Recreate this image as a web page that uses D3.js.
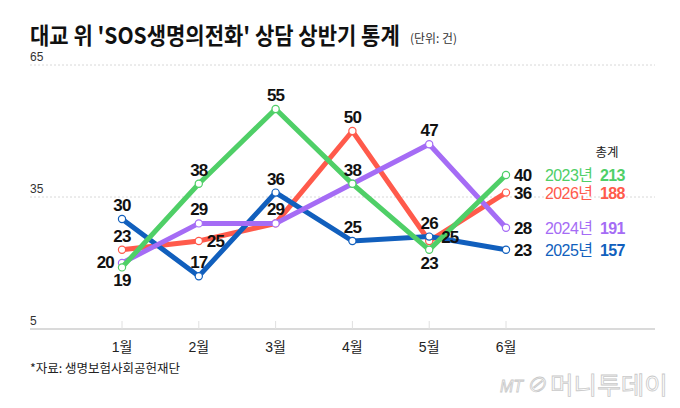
<!DOCTYPE html>
<html>
<head>
<meta charset="utf-8">
<script src="https://cdn.jsdelivr.net/npm/d3@7"></script>
<style>
  html, body { margin: 0; padding: 0; background: #fff; }
  svg { display: block; }
  text { font-family: "Liberation Sans", "Noto Sans CJK KR", sans-serif; }
  .kr { font-family: "Noto Sans CJK KR", sans-serif; }
</style>
</head>
<body>
<svg width="680" height="408"></svg>
<script>
const months = ["1월", "2월", "3월", "4월", "5월", "6월"];
const yTicks = [5, 35, 65];

// 연도별 월간 상담 건수
const years  = ["2023년", "2026년", "2024년", "2025년"];
const colors = ["#4fcf67", "#ff5a4b", "#a56cf5", "#115fbd"];
const values = [
  [19, 38, 55, 38, 23, 40],
  [23, 25, 29, 50, 25, 36],
  [20, 29, 29, 38, 47, 28],
  [30, 17, 36, 25, 26, 23]
];
// label placement per point: t = top, b = bottom, l = left, r = right, "" = none
const labelPos = [
  ["b", "t", "t", "t", "b", "r"],
  ["t", "r", "",  "t", "r", "r"],
  ["l", "t", "t", "",  "t", "r"],
  ["t", "t", "t", "t", "t", "r"]
];
const drawOrder = [1, 3, 2, 0];

const svg = d3.select("svg");

const x = d3.scalePoint().domain(months).range([122, 506]);
const y = d3.scaleLinear().domain([5, 65]).range([329, 65]);

// squeeze a text horizontally to a given width, keeping its left edge
function fitWidth(sel, x0, y0, w) {
  const natural = sel.node().getComputedTextLength();
  sel.attr("x", 0).attr("y", 0)
    .attr("transform", `translate(${x0},${y0}) scale(${w / natural},1)`);
}

// title
const title = svg.append("text")
  .attr("class", "kr")
  .attr("font-size", 23).attr("font-weight", 700)
  .attr("fill", "#111")
  .text("대교 위 'SOS생명의전화' 상담 상반기 통계");
fitWidth(title, 30, 44, 370);

const unit = svg.append("text")
  .attr("class", "kr")
  .attr("font-size", 12)
  .attr("fill", "#333")
  .text("(단위: 건)");
fitWidth(unit, 410, 43, 47);

// grid
const grid = svg.append("g");
grid.selectAll("line")
  .data(yTicks.filter(d => d !== 5))
  .enter()
  .append("line")
  .attr("x1", 30).attr("x2", 655)
  .attr("y1", d => y(d)).attr("y2", d => y(d))
  .attr("stroke", "#d8d8d8")
  .attr("stroke-width", 1)
  .attr("stroke-dasharray", "2,2");

grid.selectAll("text")
  .data(yTicks)
  .enter()
  .append("text")
  .attr("x", 30)
  .attr("y", d => y(d) - 4)
  .attr("font-size", 12)
  .attr("fill", "#333")
  .text(d => d);

// x axis
const xAxis = svg.append("g").attr("transform", "translate(0,329)");
xAxis.append("line")
  .attr("x1", 30).attr("x2", 655)
  .attr("stroke", "#b5b5b5").attr("stroke-width", 1.2);
xAxis.selectAll("line.tick")
  .data(months)
  .enter()
  .append("line")
  .attr("class", "tick")
  .attr("x1", d => x(d)).attr("x2", d => x(d))
  .attr("y1", -8).attr("y2", 0)
  .attr("stroke", "#e0e0e0");
xAxis.selectAll("text")
  .data(months)
  .enter()
  .append("text")
  .attr("x", d => x(d))
  .attr("y", 23)
  .attr("text-anchor", "middle")
  .attr("font-size", 14)
  .attr("fill", "#222")
  .text(d => d);

// source
svg.append("text")
  .attr("class", "kr")
  .attr("x", 30).attr("y", 373)
  .attr("font-size", 12.5)
  .attr("fill", "#222")
  .text("*자료: 생명보험사회공헌재단");

// lines
const line = d3.line()
  .x((d, i) => x(months[i]))
  .y(d => y(d));

const plot = svg.append("g");
drawOrder.forEach(function(s) {
  const g = plot.append("g");
  g.append("path")
    .datum(values[s])
    .attr("d", line)
    .attr("fill", "none")
    .attr("stroke", colors[s])
    .attr("stroke-width", 5)
    .attr("stroke-linejoin", "miter");
  g.selectAll("circle")
    .data(values[s])
    .enter()
    .append("circle")
    .attr("cx", (d, i) => x(months[i]))
    .attr("cy", d => y(d))
    .attr("r", 3.6)
    .attr("fill", "#fff")
    .attr("stroke", colors[s])
    .attr("stroke-width", 1.2);
});

// value labels
const labels = svg.append("g");
values.forEach(function(vals, s) {
  vals.forEach(function(v, i) {
    const p = labelPos[s][i];
    if (!p) return;
    let lx = x(months[i]), ly = y(v), anchor = "middle";
    if (p === "t") { ly -= 8; }
    if (p === "b") { ly += 19; }
    if (p === "l") { lx -= 8; ly += 5; anchor = "end"; }
    if (p === "r") { lx += 8; ly += 6; anchor = "start"; }
    if (s === 1 && i === 4) { ly -= 4; lx += 4; }
    labels.append("text")
      .attr("x", lx).attr("y", ly)
      .attr("text-anchor", anchor)
      .attr("font-size", 17)
      .attr("font-weight", 700)
      .attr("letter-spacing", -0.8)
      .attr("fill", "#111")
      .text(v);
  });
});

// legend
const legend = svg.append("g");
legend.append("text")
  .attr("class", "kr")
  .attr("x", 607).attr("y", 157)
  .attr("text-anchor", "middle")
  .attr("font-size", 12.5)
  .attr("fill", "#222")
  .text("총계");

years.forEach(function(yr, s) {
  const ly = y(values[s][5]) + 6;
  legend.append("text")
    .attr("x", 545).attr("y", ly)
    .attr("font-size", 16)
    .attr("fill", colors[s])
    .attr("letter-spacing", -0.6)
    .text(yr);
  legend.append("text")
    .attr("x", 600).attr("y", ly)
    .attr("font-size", 16)
    .attr("font-weight", 700)
    .attr("letter-spacing", -0.6)
    .attr("fill", colors[s])
    .text(d3.sum(values[s]));
});

// watermark
const wm = svg.append("g").attr("fill", "#fff").attr("stroke", "#c9c9c9").attr("stroke-width", 0.8);
wm.append("text")
  .attr("x", 500).attr("y", 392)
  .attr("font-size", 16)
  .attr("font-style", "italic")
  .text("MT");
wm.append("text")
  .attr("x", 526).attr("y", 392)
  .attr("font-size", 20)
  .attr("font-style", "italic")
  .text("⊘");
const wmText = wm.append("text")
  .attr("class", "kr")
  .attr("font-size", 24)
  .text("머니투데이");
fitWidth(wmText, 550, 394, 118);
</script>
</body>
</html>
